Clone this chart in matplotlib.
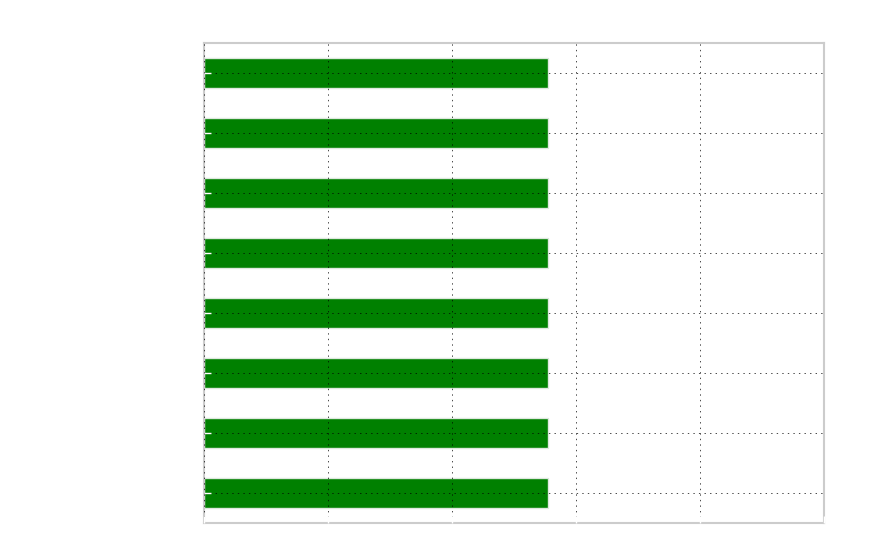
import matplotlib
matplotlib.use("Agg")
import matplotlib.pyplot as plt

categories = ["A", "B", "C", "D", "E", "F", "G", "H"]
values = [2.775, 2.775, 2.775, 2.775, 2.775, 2.775, 2.775, 2.775]
xticks = [0, 1, 2, 3, 4, 5]

fig = plt.figure(figsize=(8.76, 5.57), dpi=100)
ax = fig.add_axes([204/876, 1-523/557, 620/876, 480/557])
pos = list(range(len(categories)))
ax.barh(pos, values, height=0.5, color="#008000", edgecolor="#dde8dd", linewidth=1)
ax.set_ylim(len(categories)-0.5, -0.5)
ax.set_xlim(0, 5)
ax.set_yticks(pos)
ax.set_yticklabels(categories, color="white")
ax.set_xticks(xticks)
ax.set_xticklabels([str(t) for t in xticks], color="white")
ax.tick_params(direction="in", color="white", length=5, width=1)
ax.grid(True, linestyle=(0, (2, 6)), color="black", linewidth=0.5)
ax.set_axisbelow(False)
for s in ax.spines.values():
    s.set_color("#cccccc")
    s.set_linewidth(1.5)
ax.set_title("Chart", color="white", fontsize=14)
fig.savefig("out.png", dpi=100, facecolor="white")
